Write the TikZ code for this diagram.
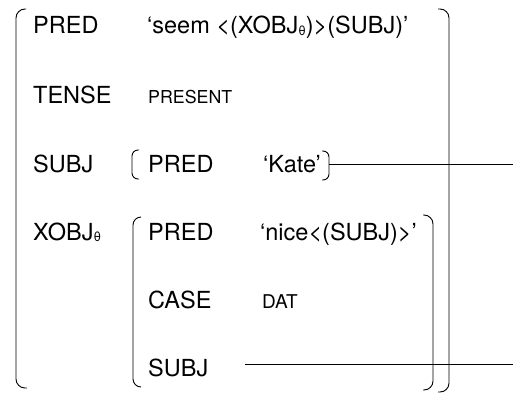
\documentclass[tikz,border=0pt]{standalone}
\usepackage{fontspec}
\setmainfont{TeX Gyre Heros}
\newcommand{\smc}[2][18.5]{{\fontsize{#1}{20}\selectfont #2}}
\newcommand{\thsub}{\raisebox{-1.5pt}{\fontsize{13}{13}\selectfont θ}}
\begin{document}
\begin{tikzpicture}[x=1pt,y=-1pt,
  txt/.style={anchor=base west,inner sep=0pt,font=\fontsize{23.5}{26}\selectfont},
  brk/.style={line width=0.9pt,rounded corners=#1},
  brk/.default=8pt,
  link/.style={line width=0.9pt}]
\useasboundingbox (0,0) rectangle (513,396);
% row 1
\node[txt] (pred) at (33,34) {PRED};
\node[txt] (seem) at (147,34) {‘seem <(XOBJ\thsub)>(SUBJ)’};
% row 2
\node[txt] (tense) at (33,103) {TENSE};
\node[txt] (present) at (148,103) {\smc[17.8]{PRESENT}};
% row 3
\node[txt] (subj) at (33,172) {SUBJ};
\node[txt] (spred) at (148,172) {PRED};
\node[txt] (kate) at (263,172) {‘Kate’};
% row 4
\node[txt] (xobj) at (33,240) {XOBJ\thsub};
\node[txt] (xpred) at (148,240) {PRED};
\node[txt] (nice) at (260,240) {‘nice<(SUBJ)>’};
% row 5
\node[txt] (case) at (148,308) {CASE};
\node[txt] (dat) at (262,308) {\smc[19]{DAT}};
% row 6
\node[txt] (xsubj) at (148,376) {SUBJ};
% brackets
\draw[brk=9pt] (26,9) -- (16,9) -- (16,388) -- (27,388);
\draw[brk=9pt] (438,9) -- (449,9) -- (449,392) -- (438,392);
\draw[brk=6pt] (139,150) -- (132,150) -- (132,179) -- (139,179);
\draw[brk=6pt] (322,151) -- (329,151) -- (329,180) -- (322,180);
\draw[brk=8pt] (141,217) -- (133,217) -- (133,387) -- (141,387);
\draw[brk=9pt] (423,215) -- (433,215) -- (433,390) -- (423,390);
% connectors
\coordinate (kbr) at (329,164);
\coordinate (kend) at (513,164);
\coordinate (sstart) at (245,364);
\coordinate (send) at (513,364);
\draw[link] (kbr) -- (kend);
\draw[link] (sstart) -- (send);
\end{tikzpicture}
\end{document}
